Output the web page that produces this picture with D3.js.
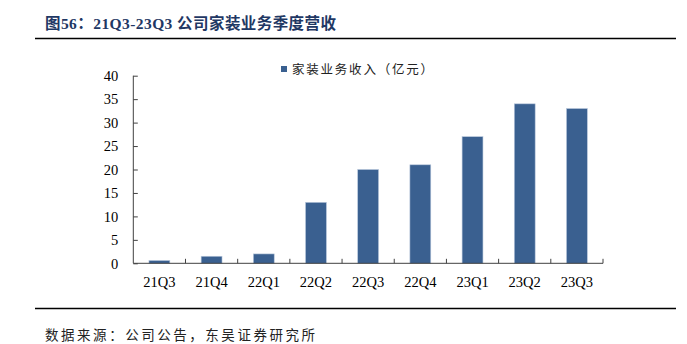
<!DOCTYPE html>
<html><head><meta charset="utf-8">
<script src="https://cdn.jsdelivr.net/npm/d3@7"></script>
<style>body{margin:0;background:#fff;} svg{display:block;}</style>
</head><body>
<script>
const categories = ["21Q3","21Q4","22Q1","22Q2","22Q3","22Q4","23Q1","23Q2","23Q3"];
const revenue = [0.6, 1.5, 2.0, 13.0, 20.0, 21.0, 27.0, 34.0, 33.0];
const yTicks = [0,5,10,15,20,25,30,35,40];
const seriesName = "家装业务收入（亿元）";
const titleText = "图56：21Q3-23Q3 公司家装业务季度营收";
const sourceText = "数据来源：公司公告，东吴证券研究所";

const W = 687, H = 344;
const svg = d3.select("body").append("svg").attr("width", W).attr("height", H);
const FONT = "'Liberation Serif','Noto Sans CJK SC',serif";

// Title
svg.append("text").attr("x", 45).attr("y", 29)
  .attr("font-family", FONT).attr("font-weight", "bold").attr("font-size", 15.5)
  .attr("fill", "#1f3864").attr("textLength", 291).attr("lengthAdjust", "spacing")
  .text(titleText);
svg.append("line").attr("x1", 35).attr("x2", 676).attr("y1", 38.5).attr("y2", 38.5)
  .attr("stroke", "#000").attr("stroke-width", 1.6);

// Chart
const x = d3.scaleBand().domain(categories).range([133.3, 603]).paddingInner(0.6).paddingOuter(0.3);
const y = d3.scaleLinear().domain([0, 40]).range([263.3, 75.7]);

const axisColor = "#404040";
// bars
svg.append("g").selectAll("rect").data(revenue).join("rect")
  .attr("x", (d,i) => x(categories[i]))
  .attr("width", x.bandwidth())
  .attr("y", d => y(d))
  .attr("height", d => y(0) - y(d))
  .attr("fill", "#3a6090")
  .attr("stroke", "#b9c8dc").attr("stroke-width", 0.6);

// y axis
const yAxis = svg.append("g").attr("transform", "translate(133.3,0)")
  .call(d3.axisLeft(y).tickValues(yTicks).tickSize(-4.5).tickPadding(15).tickFormat(d3.format("d")));
yAxis.select(".domain").attr("stroke", axisColor).attr("d", `M0,${y(40)}V${y(0)}`);
yAxis.selectAll(".tick line").attr("stroke", axisColor);
yAxis.selectAll(".tick text").attr("font-family", FONT).attr("font-size", 14.5).attr("fill", "#000").attr("dy", "0.33em");

// x axis
const xAxis = svg.append("g").attr("transform", `translate(0,${y(0)})`)
  .call(d3.axisBottom(x).tickSize(0).tickPadding(13));
xAxis.select(".domain").attr("stroke", axisColor).attr("d", `M133.3,0H603`);
xAxis.selectAll(".tick text").attr("font-family", FONT).attr("font-size", 14.5).attr("fill", "#000");
// category boundary ticks (inside)
const step = x.step();
const start = x.range()[0];
svg.append("g").selectAll("line").data(d3.range(1, categories.length + 1)).join("line")
  .attr("x1", i => start + i*step).attr("x2", i => start + i*step)
  .attr("y1", y(0)).attr("y2", y(0) - 4.5)
  .attr("stroke", axisColor);

// legend
svg.append("rect").attr("x", 281).attr("y", 66).attr("width", 6).attr("height", 6).attr("fill", "#3a6090");
svg.append("text").attr("x", 292).attr("y", 74)
  .attr("font-family", FONT).attr("font-size", 12.5).attr("fill", "#222")
  .attr("textLength", 141).attr("lengthAdjust", "spacing")
  .text(seriesName);

// bottom line and source
svg.append("line").attr("x1", 35).attr("x2", 676).attr("y1", 308.5).attr("y2", 308.5)
  .attr("stroke", "#000").attr("stroke-width", 1.4);
svg.append("text").attr("x", 45).attr("y", 340)
  .attr("font-family", FONT).attr("font-size", 13.5).attr("fill", "#222")
  .attr("textLength", 270).attr("lengthAdjust", "spacing")
  .text(sourceText);
</script>
</body></html>
